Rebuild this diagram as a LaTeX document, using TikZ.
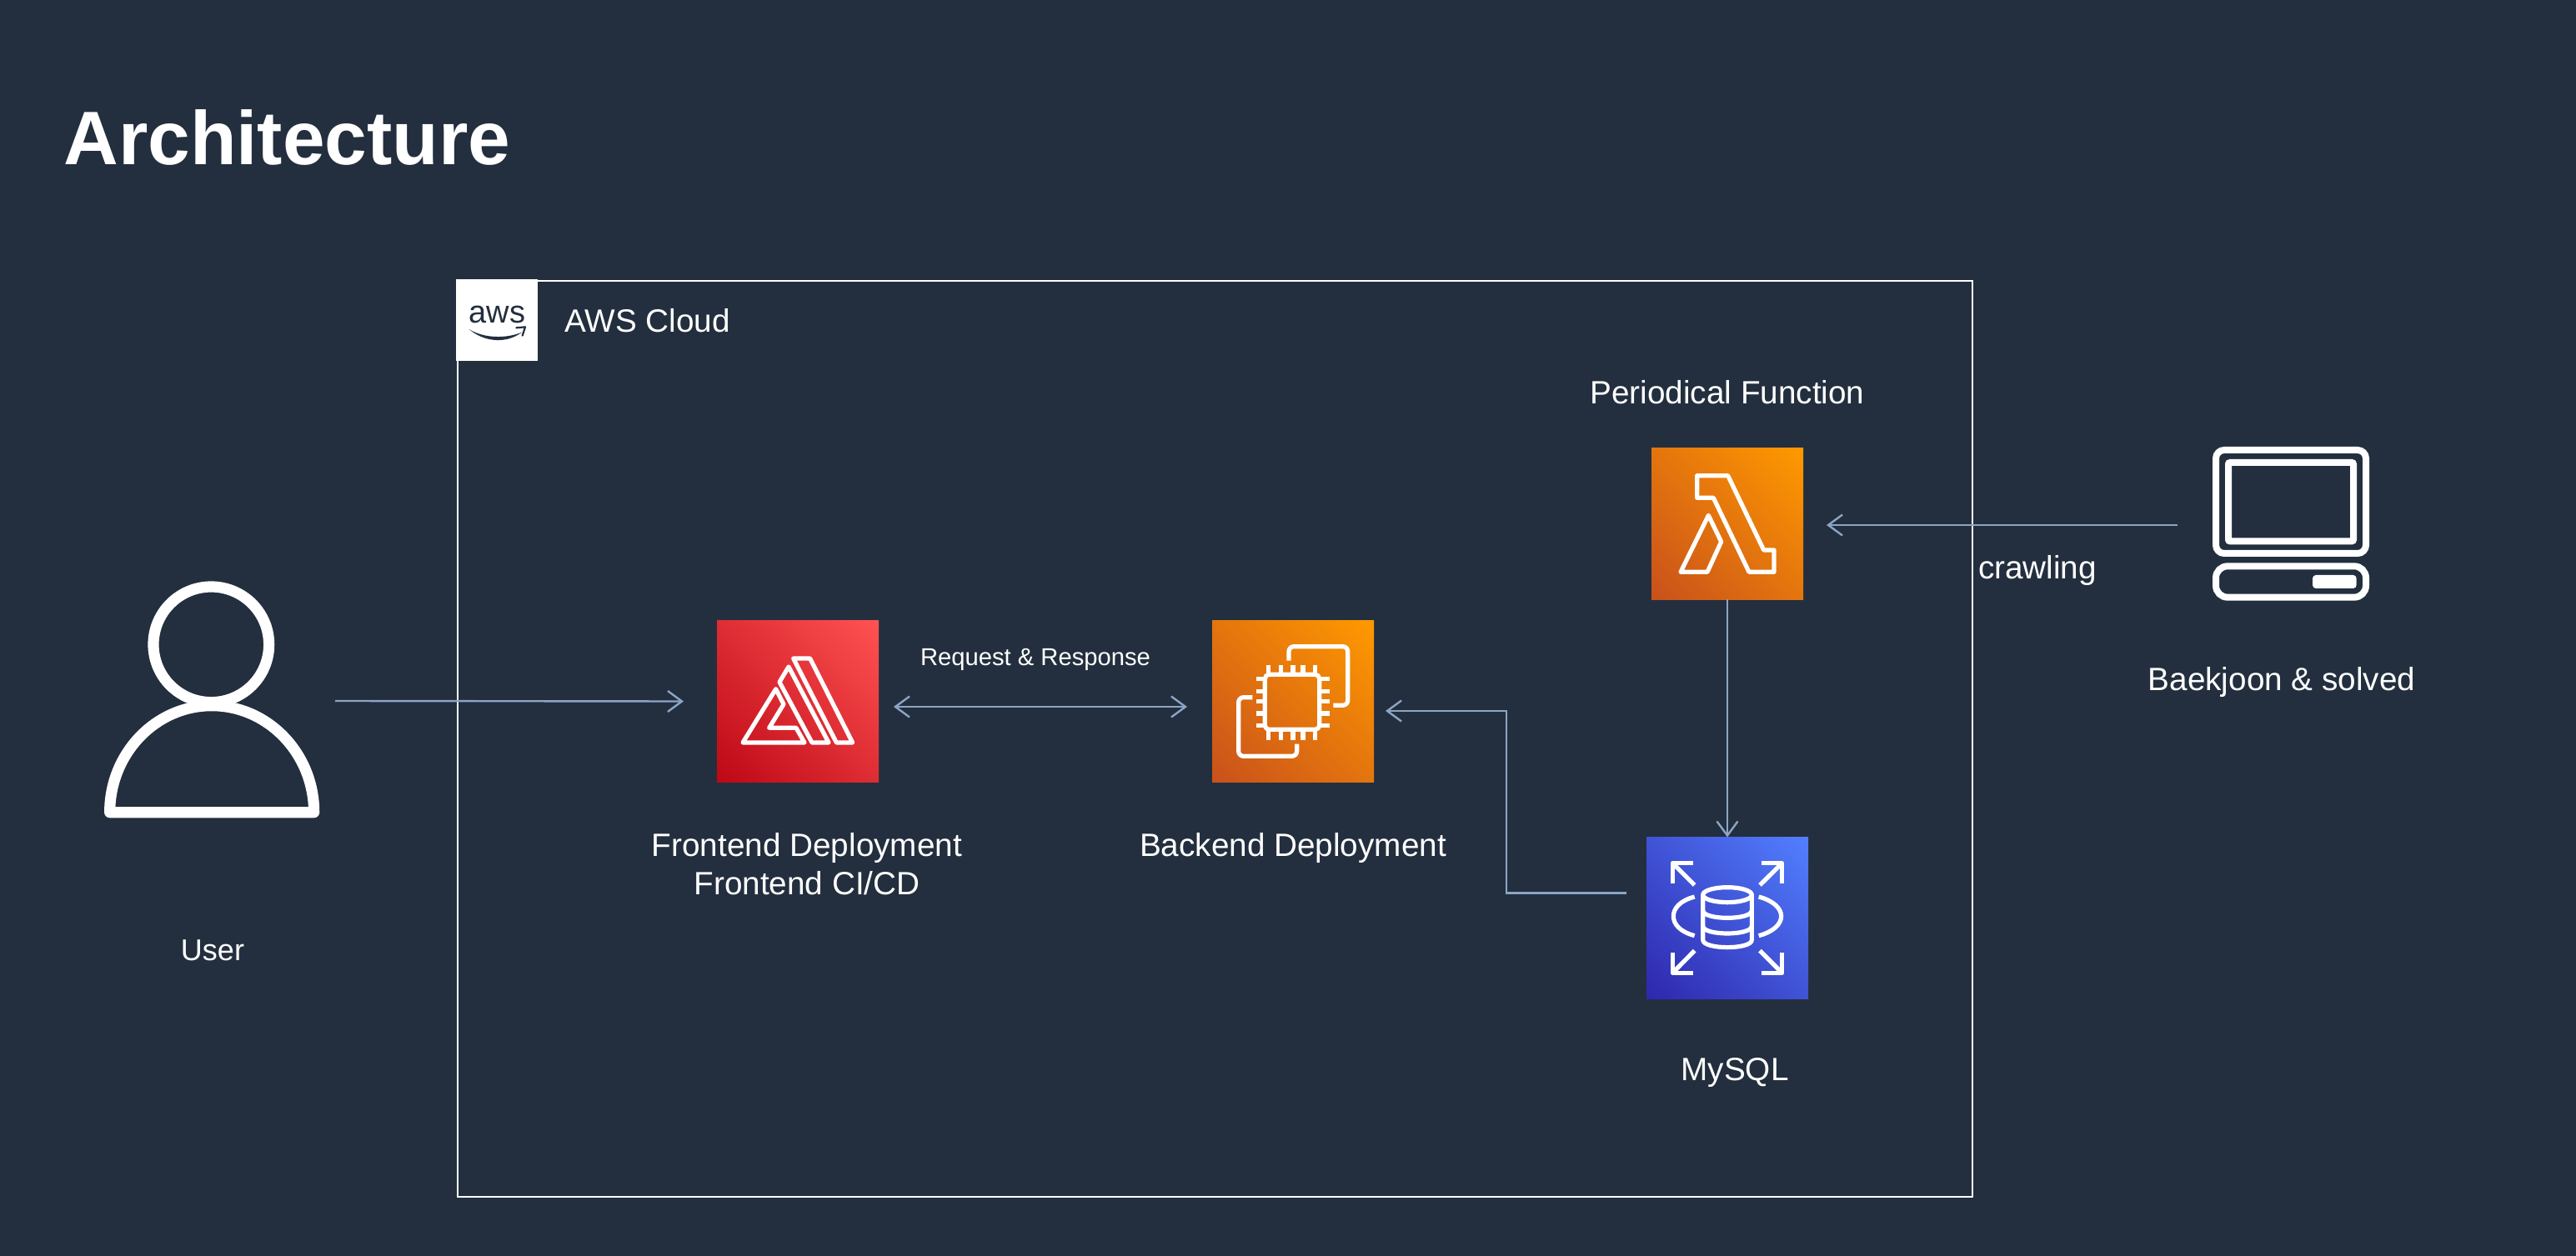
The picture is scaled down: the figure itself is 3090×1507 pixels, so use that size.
\documentclass[tikz,border=0pt]{standalone}
\usepackage{fontspec}
\setmainfont{Liberation Sans}
\usetikzlibrary{arrows.meta}
\definecolor{bgc}{HTML}{232F3E}
\definecolor{conn}{HTML}{8CA5C6}
\definecolor{ampa}{HTML}{BD0816}
\definecolor{ampb}{HTML}{FF5252}
\definecolor{ora}{HTML}{C8511B}
\definecolor{orb}{HTML}{FF9900}
\definecolor{bla}{HTML}{2E27AD}
\definecolor{blb}{HTML}{527FFF}
\pgfdeclareverticalshading{ampgrad}{100bp}{color(0bp)=(ampa); color(14.64bp)=(ampa); color(85.36bp)=(ampb); color(100bp)=(ampb)}
\pgfdeclareverticalshading{orgrad}{100bp}{color(0bp)=(ora); color(14.64bp)=(ora); color(85.36bp)=(orb); color(100bp)=(orb)}
\pgfdeclareverticalshading{blgrad}{100bp}{color(0bp)=(bla); color(14.64bp)=(bla); color(85.36bp)=(blb); color(100bp)=(blb)}
\tikzset{
  x=0.5pt,y=-0.5pt,
  iconbox/.style={minimum size=97pt,inner sep=0pt,outer sep=0pt,shade,shading angle=-45},
  ghost/.style={inner sep=0pt,outer sep=0pt},
  lbl/.style={text=white,inner sep=0pt,font=\fontsize{19.35}{23}\selectfont,align=center},
  wire/.style={draw=conn,line width=1.2pt,-{Straight Barb[length=8.5pt,width=12.5pt,line width=1.2pt]}},
  wirerev/.style={draw=conn,line width=1.2pt,{Straight Barb[length=8.5pt,width=12.5pt,line width=1.2pt]}-{Straight Barb[length=8.5pt,width=12.5pt,line width=1.2pt]}},
  glyph/.style={draw=white,line width=2.6pt,line join=round,fill=none},
}
\begin{document}
\begin{tikzpicture}
\useasboundingbox (0,0) rectangle (3090,1507);
\fill[bgc] (0,0) rectangle (3090,1507);
\node[lbl,anchor=base west,font=\fontsize{45.5}{50}\bfseries] (title) at (76,198) {Architecture};
% AWS Cloud group
\node[draw=white,line width=1.3pt,inner sep=0pt,outer sep=0pt,minimum width=908.5pt,minimum height=549.5pt] (cloud) at (1457.5,886.5) {};
\node[fill=white,inner sep=0pt,outer sep=0pt,minimum size=49pt] (awslogo) at (596,384.5) {};
\node[text=bgc,inner sep=0pt,font=\fontsize{19}{19}\selectfont] (awstext) at (596.5,377) {aws};
\begin{scope}[shift={(540,330)},scale=1/3]
\fill[bgc] (68,195) .. controls (120,240) and (200,250) .. (258,206) .. controls (200,230) and (120,228) .. (68,195) -- cycle;
\draw[bgc,line width=1.1pt,line cap=round,line join=round] (238,190) -- (270,187) -- (260,218);
\end{scope}
\node[lbl,anchor=base west] (cloudlbl) at (677,399) {AWS Cloud};
% service squares
\node[iconbox,shading=ampgrad,shading angle=-45] (amp) at (957,841.5) {};
\node[iconbox,shading=orgrad,shading angle=-45] (ec2) at (1551,841.5) {};
\node[iconbox,minimum size=91pt,shading=orgrad,shading angle=-45] (lam) at (2072,628.5) {};
\node[iconbox,shading=blgrad,shading angle=-45] (rds) at (2072,1101.5) {};
\node[ghost,minimum width=129pt,minimum height=142pt] (user) at (254,839) {};
\node[ghost,minimum width=94pt,minimum height=93pt] (comp) at (2748,628) {};
% amplify glyph
\begin{scope}[shift={(840,730)},scale=1/3]
\draw[glyph] (335,180) -- (395,180) -- (548,483) -- (490,483) -- cycle;
\draw[glyph] (285,265) -- (318,210) -- (462,483) -- (402,483) -- cycle;
\draw[glyph] (272,290) -- (300,345) -- (248,430) -- (345,430) -- (375,483) -- (153,483) -- cycle;
\end{scope}
% ec2 glyph
\begin{scope}[shift={(1440,730)},scale=1/3]
\draw[glyph,rounded corners=2.5pt] (232,238) rectangle (428,436);
\foreach \p in {245,289,333,369,412}{
  \draw[glyph] (\p,203) -- (\p,238);
  \draw[glyph] (\p,436) -- (\p,473);
}
\foreach \p in {253,298,334,378,422}{
  \draw[glyph] (202,\p) -- (232,\p);
  \draw[glyph] (428,\p) -- (465,\p);
}
\draw[glyph,rounded corners=3pt] (318,188) -- (318,137) -- (530,137) -- (530,349) -- (478,349);
\draw[glyph,rounded corners=3pt] (187,320) -- (137,320) -- (137,532) -- (347,532) -- (347,488);
\end{scope}
% lambda glyph
\begin{scope}[shift={(1970,520)},scale=1/3]
\draw[glyph] (197,152) -- (308,152) -- (437,420) -- (474,420) -- (474,499) -- (384,499) -- (256,232) -- (197,232) -- cycle;
\draw[glyph] (238,295) -- (284,390) -- (234,499) -- (138,499) -- cycle;
\end{scope}
% rds glyph
\begin{scope}[shift={(1960,990)},scale=1/3]
\draw[glyph] (212,137) -- (139,137) -- (139,210);
\draw[glyph] (139,137) -- (218,216);
\draw[glyph] (460,137) -- (533,137) -- (533,210);
\draw[glyph] (533,137) -- (453,216);
\draw[glyph] (139,460) -- (139,532) -- (212,532);
\draw[glyph] (139,532) -- (218,452);
\draw[glyph] (460,532) -- (533,532) -- (533,460);
\draw[glyph] (533,532) -- (453,452);
\draw[glyph] (218,258) .. controls (165,272) and (142,300) .. (142,328) .. controls (142,356) and (165,384) .. (218,398);
\draw[glyph] (449,258) .. controls (502,272) and (530,300) .. (530,328) .. controls (530,356) and (502,384) .. (449,398);
\draw[glyph] (336,251) ellipse [x radius=88,y radius=27];
\draw[glyph] (248,251) -- (248,413) .. controls (248,449) and (424,449) .. (424,413) -- (424,251);
\draw[glyph] (248,307) .. controls (248,343) and (424,343) .. (424,307);
\draw[glyph] (248,363) .. controls (248,399) and (424,399) .. (424,363);
\end{scope}
% user glyph
\begin{scope}[shift={(110,680)},scale=1/3]
\draw[draw=white,line width=6.6pt] (430,280) circle [radius=208];
\draw[draw=white,line width=6.6pt,line join=round] (65,884) .. controls (65,672) and (230,500) .. (432,500) .. controls (634,500) and (800,672) .. (800,884) -- cycle;
\end{scope}
% computer glyph
\begin{scope}[shift={(2640,520)},scale=1/3]
\draw[draw=white,line width=4pt,rounded corners=5pt] (54,60) rectangle (594,432);
\draw[draw=white,line width=4pt,rounded corners=1pt] (99,105) rectangle (549,388);
\draw[draw=white,line width=4pt,rounded corners=7pt] (54,478) rectangle (594,590);
\fill[white,rounded corners=2pt] (402,510) rectangle (560,558);
\end{scope}
% connectors
\draw[wire] ([shift={(19,2)}]user.east) -- ([shift={(-40,0)}]amp.west);
\draw[wirerev] ([shift={(18,6.5)}]amp.east) -- ([shift={(-30,6.5)}]ec2.west);
\coordinate (elbow) at (1807,853);
\draw[wire] ([shift={(-24,-30)}]rds.west) -| (elbow) -- ([shift={(14,11.5)}]ec2.east);
\draw[wire] (lam.south) -- (rds.north);
\draw[wire] ([shift={(-42,2)}]comp.west) -- ([shift={(28,1.5)}]lam.east);
% labels
\node[lbl] (lamlbl) at (2072,471) {Periodical Function};
\node[lbl] (craw) at (2444,684) {crawling};
\node[lbl] (bj) at (2737,818) {Baekjoon \& solved};
\node[lbl,font=\fontsize{14.6}{18}\selectfont] (req) at (1242,791) {Request \& Response};
\node[lbl] (amplbl) at (968,1037) {Frontend Deployment\\Frontend CI/CD};
\node[lbl] (ec2lbl) at (1551,1017) {Backend Deployment};
\node[lbl] (rdslbl) at (2081,1287) {MySQL};
\node[lbl,font=\fontsize{18}{22}\selectfont] (userlbl) at (255,1140) {User};
\end{tikzpicture}
\end{document}
